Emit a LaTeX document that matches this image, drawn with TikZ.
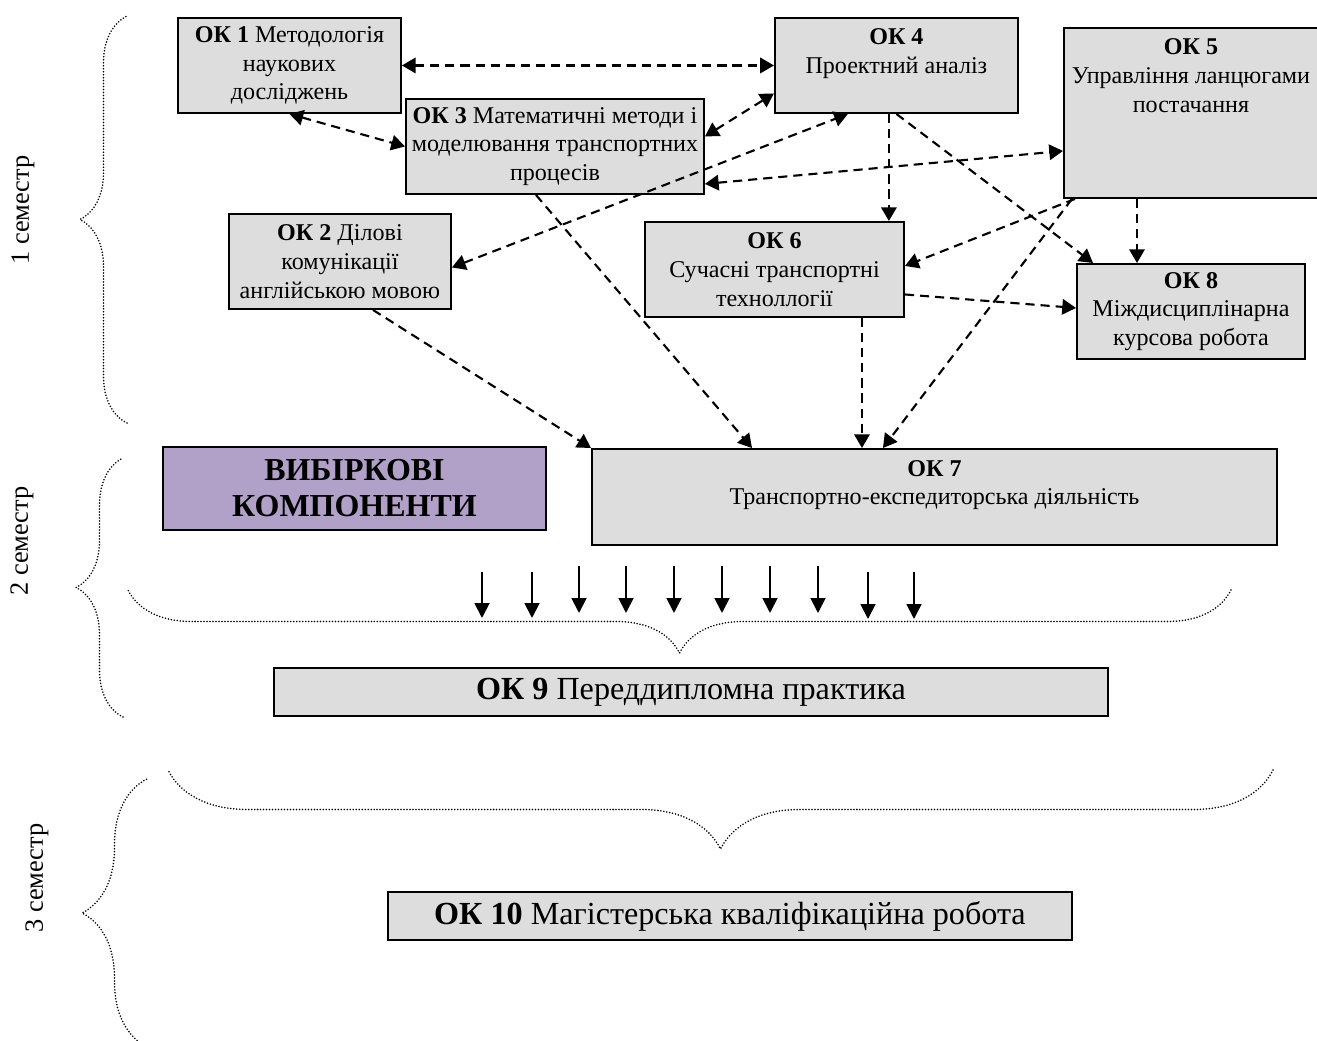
\documentclass[tikz,border=0pt]{standalone}
\usepackage{fontspec}
\setmainfont{Liberation Serif}
\usetikzlibrary{positioning, arrows.meta, decorations.pathreplacing}
\definecolor{boxgray}{RGB}{221,221,221}
\definecolor{electpurple}{RGB}{177,160,199}

\begin{document}
\begin{tikzpicture}
    % Define the styles for the boxes, links and braces
    \tikzset{
        okbox/.style={rectangle, draw, line width=1.1pt, fill=boxgray, align=center, inner sep=2pt, anchor=north west, font=\fontsize{13.7}{16.4}\selectfont},
        bigbox/.style={okbox, font=\fontsize{18.3}{21}\selectfont},
        link/.style={line width=1.2pt, dash pattern=on 5.2pt off 3.4pt, -{Triangle[length=7.8pt, width=8.8pt]}},
        twoway/.style={link, {Triangle[length=7.8pt, width=8.8pt]}-{Triangle[length=7.8pt, width=8.8pt]}},
        flow/.style={line width=1.1pt, -{Triangle[length=8.5pt, width=8.5pt]}},
        semester/.style={line width=1pt, line cap=round, dash pattern=on 0pt off 1.7pt, decorate, decoration={brace, amplitude=#1}},
        term/.style={rotate=90, font=\fontsize{15}{17}\selectfont}
    }
    \useasboundingbox (0,0) rectangle (26.34,-20.82);

    % Draw the components of the first semester
    \node[okbox, minimum width=4.46cm, minimum height=1.9cm] (ok1) at (3.54,-0.34) {\textbf{ОК 1} Методологія\\наукових\\досліджень};
    \node[okbox, anchor=west, minimum width=4.86cm, minimum height=1.9cm, right=7.44cm of ok1] (ok4) {\textbf{ОК 4}\\Проектний аналіз\\~};
    \node[okbox, inner xsep=1pt, minimum width=5.96cm, minimum height=1.9cm] (ok3) at (8.10,-1.96) {\textbf{ОК 3} Математичні методи і\\моделювання транспортних\\процесів};
    \node[okbox, minimum width=5.08cm, minimum height=3.4cm] (ok5) at (21.26,-0.54) {\textbf{ОК 5}\\Управління ланцюгами\\постачання\\[26pt]~};
    \node[okbox, minimum width=4.44cm, minimum height=1.9cm] (ok2) at (4.56,-4.26) {\textbf{ОК 2} Ділові\\комунікації\\англійською мовою};
    \node[okbox, minimum width=5.18cm, minimum height=1.9cm] (ok6) at (12.88,-4.42) {\textbf{ОК 6}\\Сучасні транспортні\\техноллогії};
    \node[okbox, minimum width=4.56cm, minimum height=1.9cm] (ok8) at (21.52,-5.26) {\textbf{ОК 8}\\Міждисциплінарна\\курсова робота};

    % Draw the components of the second and third semesters
    \node[okbox, fill=electpurple, minimum width=7.66cm, minimum height=1.66cm, font=\fontsize{18.2}{20.4}\selectfont\bfseries] (elect) at (3.24,-8.92) {ВИБІРКОВІ\\КОМПОНЕНТИ};
    \node[okbox, minimum width=13.70cm, minimum height=1.92cm] (ok7) at (11.82,-8.96) {\textbf{ОК 7}\\Транспортно-експедиторська діяльність\\~};
    \node[bigbox, minimum width=16.68cm, minimum height=0.96cm] (ok9) at (5.46,-13.34) {\textbf{ОК 9} Переддипломна практика};
    \node[bigbox, minimum width=13.68cm, minimum height=0.96cm] (ok10) at (7.74,-17.82) {\textbf{ОК 10} Магістерська кваліфікаційна робота};

    % Draw the links between the components
    \draw[twoway] (ok1.east) -- (ok4.west);
    \draw[twoway] (ok1.south) -- (ok3.west);
    \draw[twoway] ([yshift=0.2cm]ok3.east) -- ([yshift=-0.56cm]ok4.west);
    \draw[twoway] ([yshift=-0.12cm]ok2.east) -- ([xshift=-0.97cm]ok4.south);
    \draw[twoway] ([yshift=0.22cm]ok3.south east) -- ([yshift=-0.76cm]ok5.west);
    \draw[link] ([xshift=-0.15cm]ok4.south) -- ([xshift=-0.15cm]ok4.south |- ok6.north);
    \draw[link] (ok4.south) -- ([xshift=0.34cm]ok8.north west);
    \draw[link] ([xshift=0.24cm]ok5.south west) -- ([yshift=0.07cm]ok6.east);
    \draw[link] ([xshift=1.48cm]ok5.south west) -- ([xshift=1.48cm]ok5.south west |- ok8.north);
    \draw[link] ([xshift=0.18cm]ok5.south west) -- ([xshift=-1.03cm]ok7.north);
    \draw[link] ([yshift=-0.5cm]ok6.east) -- ([yshift=0.07cm]ok8.west);
    \draw[link] ([xshift=1.75cm]ok6.south) -- ([xshift=1.75cm]ok6.south |- ok7.north);
    \draw[link] ([xshift=-0.38cm]ok3.south) -- ([xshift=3.22cm]ok7.north west);
    \draw[link] ([xshift=0.66cm]ok2.south) -- (ok7.north west);

    % Draw the arrows into the practice
    \foreach \x/\t/\b [count=\i] in {9.64/11.44/12.36, 10.64/11.44/12.36, 11.58/11.32/12.26, 12.52/11.32/12.26, 13.48/11.32/12.26,
                                     14.44/11.32/12.26, 15.40/11.32/12.26, 16.36/11.32/12.26, 17.36/11.44/12.38, 18.28/11.44/12.38} {
        \coordinate (top\i) at (\x,-\t);
        \coordinate (tip\i) at (\x,-\b);
        \draw[flow] (top\i) -- (tip\i);
    }

    % Draw the braces and the semesters
    \draw[semester=0.94cm] (2.54,-8.46) -- (2.54,-0.32);
    \draw[semester=0.94cm] (2.46,-14.34) -- (2.46,-9.16);
    \draw[semester=1.30cm] (2.94,-20.94) -- (2.94,-15.58);
    \draw[semester=1.26cm] (24.62,-11.80) -- (2.56,-11.80);
    \draw[semester=1.58cm] (25.46,-15.40) -- (3.36,-15.40);
    \node[term] (sem1) at (0.46,-4.20) {1 семестр};
    \node[term] (sem2) at (0.44,-10.82) {2 семестр};
    \node[term] (sem3) at (0.74,-17.56) {3 семестр};
\end{tikzpicture}
\end{document}
